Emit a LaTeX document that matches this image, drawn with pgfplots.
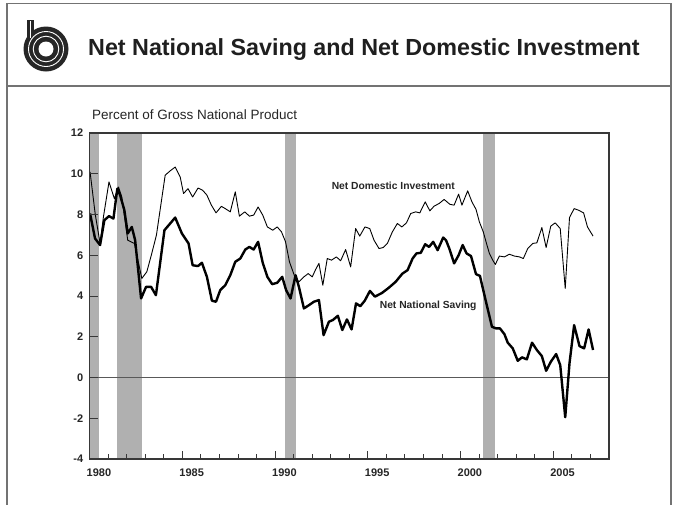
\documentclass[border=0pt]{standalone}
\usepackage{fontspec}
\setmainfont{Liberation Sans}
\usepackage{pgfplots}
\usepackage{pgfplotstable}
\pgfplotsset{compat=1.18}
\definecolor{recgray}{gray}{0.69}
\definecolor{framegray}{gray}{0.45}
\definecolor{axgray}{gray}{0.22}
\definecolor{logogray}{gray}{0.15}

\pgfplotstableread{
year ndi
1980.02 10.09
1980.30 8.00
1980.56 6.58
1980.74 7.88
1981.04 9.60
1981.33 8.78
1981.55 9.35
1981.73 8.86
1982.05 6.74
1982.41 6.58
1982.81 4.86
1983.08 5.19
1983.35 6.10
1983.60 7.00
1984.07 9.93
1984.35 10.15
1984.61 10.33
1984.88 9.84
1985.06 9.03
1985.30 9.27
1985.55 8.86
1985.84 9.30
1986.09 9.19
1986.32 8.95
1986.56 8.46
1986.81 8.08
1987.10 8.40
1987.31 8.29
1987.58 8.13
1987.85 9.11
1988.07 7.92
1988.36 8.13
1988.61 7.92
1988.84 7.97
1989.08 8.37
1989.33 7.97
1989.58 7.39
1989.87 7.23
1990.11 7.39
1990.34 7.15
1990.56 6.66
1990.77 5.68
1991.06 4.94
1991.28 4.70
1991.55 4.94
1991.78 5.10
1992.00 4.94
1992.18 5.30
1992.36 5.60
1992.57 4.53
1992.81 5.84
1993.04 5.76
1993.30 5.92
1993.53 5.73
1993.80 6.28
1994.07 5.43
1994.34 7.31
1994.56 6.94
1994.84 7.39
1995.10 7.31
1995.33 6.74
1995.60 6.33
1995.82 6.38
1996.05 6.58
1996.32 7.15
1996.59 7.56
1996.83 7.39
1997.08 7.59
1997.31 8.05
1997.58 8.13
1997.80 8.08
1998.09 8.62
1998.34 8.18
1998.57 8.41
1998.84 8.54
1999.11 8.74
1999.42 8.50
1999.65 8.46
1999.89 9.00
2000.07 8.46
2000.38 9.16
2000.61 8.62
2000.83 8.25
2001.01 7.64
2001.22 7.15
2001.37 6.66
2001.55 6.09
2001.73 5.76
2001.87 5.55
2002.09 5.96
2002.36 5.92
2002.63 6.05
2002.90 5.96
2003.17 5.92
2003.38 5.84
2003.62 6.33
2003.89 6.58
2004.11 6.61
2004.38 7.36
2004.61 6.38
2004.86 7.43
2005.10 7.59
2005.37 7.31
2005.64 4.37
2005.87 7.85
2006.12 8.29
2006.36 8.21
2006.63 8.08
2006.84 7.39
2007.14 6.94
}\ndidata

\pgfplotstableread{
year nns
1980.02 8.05
1980.29 6.82
1980.56 6.50
1980.79 7.72
1981.04 7.92
1981.28 7.80
1981.49 9.27
1981.64 8.95
1981.87 8.21
1982.05 7.07
1982.27 7.39
1982.45 6.74
1982.77 3.88
1983.04 4.45
1983.31 4.45
1983.57 4.04
1984.03 7.23
1984.34 7.56
1984.61 7.85
1984.97 7.07
1985.33 6.58
1985.55 5.51
1985.84 5.47
1986.05 5.63
1986.32 4.94
1986.59 3.77
1986.81 3.72
1987.04 4.29
1987.31 4.53
1987.58 5.02
1987.85 5.68
1988.12 5.84
1988.39 6.28
1988.61 6.41
1988.84 6.28
1989.08 6.66
1989.33 5.63
1989.58 4.94
1989.84 4.58
1990.11 4.65
1990.38 4.94
1990.59 4.29
1990.83 3.88
1991.10 5.02
1991.28 4.45
1991.55 3.39
1991.82 3.55
1992.09 3.72
1992.36 3.80
1992.61 2.08
1992.90 2.74
1993.11 2.82
1993.38 3.03
1993.62 2.33
1993.87 2.85
1994.12 2.36
1994.36 3.64
1994.59 3.50
1994.83 3.77
1995.11 4.25
1995.38 3.97
1995.76 4.15
1996.12 4.40
1996.50 4.70
1996.86 5.10
1997.14 5.27
1997.41 5.84
1997.62 6.09
1997.85 6.12
1998.09 6.54
1998.30 6.41
1998.52 6.66
1998.76 6.25
1999.06 6.87
1999.21 6.74
1999.39 6.33
1999.65 5.60
1999.89 6.00
2000.11 6.50
2000.32 6.09
2000.56 5.96
2000.83 5.07
2001.04 4.99
2001.22 4.29
2001.41 3.55
2001.69 2.49
2001.91 2.41
2002.12 2.41
2002.36 2.13
2002.54 1.71
2002.81 1.43
2003.08 0.82
2003.31 0.99
2003.57 0.89
2003.85 1.71
2004.11 1.35
2004.38 1.05
2004.61 0.33
2004.86 0.77
2005.15 1.15
2005.37 0.61
2005.64 -1.95
2005.87 0.70
2006.12 2.57
2006.41 1.54
2006.66 1.43
2006.90 2.36
2007.14 1.35
}\nnsdata

\begin{document}
\begin{tikzpicture}
\useasboundingbox (0pt,0pt) rectangle (674pt,-504pt);
\fill[white] (0pt,0pt) rectangle (674pt,-504pt);
% frame
\draw[framegray, line width=1.4pt] (7pt,-520pt) -- (7pt,-3.5pt) -- (671pt,-3.5pt) -- (671pt,-520pt);
\draw[framegray, line width=1.4pt] (7pt,-86pt) -- (671pt,-86pt);
% logo
\fill[logogray] (46pt,-49pt) circle (22.5pt);
\fill[logogray] (27pt,-20pt) rectangle (33.5pt,-40pt);
\draw[white, line width=0.9pt] (46pt,-49pt) circle (17.5pt);
\draw[white, line width=0.9pt] (46pt,-49pt) circle (12.8pt);
\draw[white, line width=0.8pt] (30.2pt,-21pt) -- (30.2pt,-38pt);
\fill[white] (46pt,-49pt) circle (7.5pt);
% title
\node[anchor=base west, inner sep=0pt, text=black!88] at (88pt,-55.5pt)
  {\fontsize{23.3}{28}\selectfont\bfseries Net National Saving and Net Domestic Investment};
\node[anchor=base west, inner sep=0pt, text=black!85] at (92pt,-119.3pt)
  {\fontsize{13.5}{16}\selectfont Percent of Gross National Product};

\begin{axis}[
  at={(89.7pt,-459pt)}, anchor=south west,
  scale only axis, width=519.3pt, height=326pt,
  xmin=1980, xmax=2008, ymin=-4, ymax=12,
  axis line style={axgray, line width=1.1pt},
  axis on top,
  tick align=inside, tick pos=left,
  xtick={1980,1985,...,2005},
  minor xtick={1981,1982,1983,1984,1986,1987,1988,1989,1991,1992,1993,1994,1996,1997,1998,1999,2001,2002,2003,2004,2006,2007},
  ytick={-4,-2,...,12},
  major tick length=8.5pt, minor tick length=5pt,
  every tick/.style={axgray, line width=1pt},
  xticklabel style={xshift=9.25pt, yshift=-6pt},
  yticklabel style={xshift=-3pt},
  ticklabel style={font=\bfseries\fontsize{11}{12}\selectfont, text=black!85},
  /pgf/number format/1000 sep={},
  /pgf/number format/assume math mode=true,
]
% recession bands
\addplot[draw=none, fill=recgray] coordinates {(1980,-4) (1980,12) (1980.48,12) (1980.48,-4)} -- cycle;
\addplot[draw=none, fill=recgray] coordinates {(1981.49,-4) (1981.49,12) (1982.82,12) (1982.82,-4)} -- cycle;
\addplot[draw=none, fill=recgray] coordinates {(1990.52,-4) (1990.52,12) (1991.15,12) (1991.15,-4)} -- cycle;
\addplot[draw=none, fill=recgray] coordinates {(2001.22,-4) (2001.22,12) (2001.86,12) (2001.86,-4)} -- cycle;
% zero line
\addplot[black!65, line width=1.2pt] coordinates {(1980,0) (2008,0)};
% series
\addplot[black, line width=0.9pt, line join=round] table[x=year, y=ndi] {\ndidata};
\addplot[black, line width=2.4pt, line join=round] table[x=year, y=nns] {\nnsdata};
\node[font=\bfseries\fontsize{10.3}{12}\selectfont, text=black!85] at (axis cs:1996.37,9.39) {Net Domestic Investment};
\node[font=\bfseries\fontsize{10.3}{12}\selectfont, text=black!85] at (axis cs:1998.25,3.53) {Net National Saving};
\end{axis}
\end{tikzpicture}
\end{document}
